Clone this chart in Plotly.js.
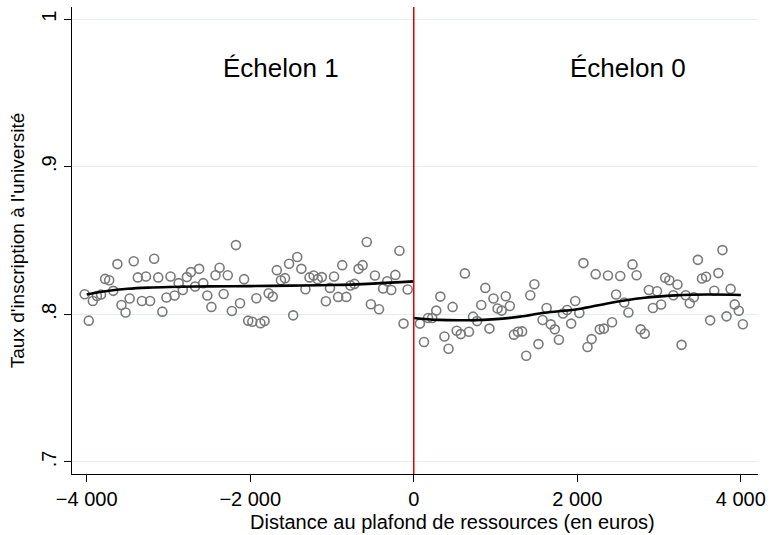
<!DOCTYPE html>
<html>
<head>
<meta charset="utf-8">
<script src="https://cdn.plot.ly/plotly-3.0.1.min.js"></script>
<style>html,body{margin:0;padding:0;background:#fff;}#chart{width:772px;height:535px;}</style>
</head>
<body>
<div id="chart"></div>
<script>
// Binned means, left of threshold (Échelon 1)
const leftX = [-4025,-3975,-3925,-3875,-3825,-3775,-3725,-3675,-3625,-3575,
  -3525,-3475,-3425,-3375,-3325,-3275,-3225,-3175,-3125,-3075,
  -3025,-2975,-2925,-2875,-2825,-2775,-2725,-2675,-2625,-2575,
  -2525,-2475,-2425,-2375,-2325,-2275,-2225,-2175,-2125,-2075,
  -2025,-1975,-1925,-1875,-1825,-1775,-1725,-1675,-1625,-1575,
  -1525,-1475,-1425,-1375,-1325,-1275,-1225,-1175,-1125,-1075,
  -1025,-975,-925,-875,-825,-775,-725,-675,-625,-575,
  -525,-475,-425,-375,-325,-275,-225,-175,-125,-75];
const leftY = [0.8136,0.7957,0.8090,0.8124,0.8134,0.8240,0.8231,0.8159,0.8340,0.8063,
  0.8012,0.8107,0.8359,0.8250,0.8090,0.8256,0.8090,0.8376,0.8250,0.8018,
  0.8114,0.8256,0.8127,0.8211,0.8165,0.8252,0.8286,0.8188,0.8308,0.8211,
  0.8127,0.8050,0.8265,0.8315,0.8138,0.8265,0.8022,0.8469,0.8075,0.8238,
  0.7957,0.7950,0.8109,0.7939,0.7954,0.8143,0.8120,0.8299,0.8231,0.8245,
  0.8342,0.7993,0.8388,0.8308,0.8170,0.8250,0.8263,0.8238,0.8252,0.8088,
  0.8179,0.8256,0.8118,0.8333,0.8118,0.8195,0.8206,0.8308,0.8333,0.8490,
  0.8068,0.8263,0.8034,0.8175,0.8224,0.8165,0.8267,0.8431,0.7937,0.8168];
// Binned means, right of threshold (Échelon 0)
const rightX = [75,125,175,225,275,325,375,425,475,525,
  575,625,675,725,775,825,875,925,975,1025,
  1075,1125,1175,1225,1275,1325,1375,1425,1475,1525,
  1575,1625,1675,1725,1775,1825,1875,1925,1975,2025,
  2075,2125,2175,2225,2275,2325,2375,2425,2475,2525,
  2575,2625,2675,2725,2775,2825,2875,2925,2975,3025,
  3075,3125,3175,3225,3275,3325,3375,3425,3475,3525,
  3575,3625,3675,3725,3775,3825,3875,3925,3975,4025];
const rightY = [0.7937,0.7812,0.7975,0.7975,0.8025,0.8120,0.7850,0.7767,0.8050,0.7889,
  0.7866,0.8277,0.7882,0.7984,0.7954,0.8063,0.8179,0.7903,0.8107,0.8039,
  0.8025,0.8122,0.8056,0.7862,0.7882,0.7884,0.7719,0.8129,0.8204,0.7798,
  0.7961,0.8043,0.7932,0.7898,0.7828,0.8005,0.8029,0.7937,0.8090,0.8009,
  0.8347,0.7778,0.7832,0.8272,0.7898,0.7903,0.8263,0.7946,0.8134,0.8259,
  0.8080,0.8012,0.8338,0.8265,0.7898,0.7869,0.8165,0.8043,0.8156,0.8066,
  0.8248,0.8231,0.8129,0.8202,0.7793,0.8129,0.8075,0.8116,0.8369,0.8243,
  0.8254,0.7959,0.8160,0.8279,0.8435,0.7986,0.8172,0.8067,0.8024,0.7933];
// Smoothed fits
const leftFitX = [-4000,-3750,-3500,-3250,-3000,-2500,-2000,-1500,-1000,-500,0];
const leftFitY = [0.8134,0.8158,0.8173,0.8181,0.8185,0.8189,0.8191,0.8194,0.8198,0.8208,0.8223];
const rightFitX = [0,300,700,1000,1300,1600,2000,2400,2800,3200,3600,4000];
const rightFitY = [0.7975,0.7962,0.7960,0.7967,0.7984,0.8010,0.8034,0.8077,0.8110,0.8128,0.8134,0.8131];
// Axis ticks and labels
const xTicks = [-4000,-2000,0,2000,4000];
const xTickText = ['\u22124 000','\u22122 000','0','2 000','4 000'];
const yTicks = [0.7,0.8,0.9,1];
const yTickText = ['.7','.8','.9','1'];
const xTitle = 'Distance au plafond de ressources (en euros)';
const yTitle = "Taux d'inscription à l'université";
const groupLabels = ['Échelon 1','Échelon 0'];
const groupLabelX = [-1622,2626];
const groupLabelY = [0.9667,0.9667];

const FONT = 'Liberation Sans, Arial, Helvetica, sans-serif';
const markerStyle = {symbol:'circle-open', size:9, color:'#7a7a7a', line:{width:1.6, color:'#7a7a7a'}};

const traces = [
  {x:leftX, y:leftY, type:'scatter', mode:'markers', marker:markerStyle, hoverinfo:'x+y'},
  {x:rightX, y:rightY, type:'scatter', mode:'markers', marker:markerStyle, hoverinfo:'x+y'},
  {x:leftFitX, y:leftFitY, type:'scatter', mode:'lines', line:{color:'#000', width:2.6, shape:'spline', smoothing:1}},
  {x:rightFitX, y:rightFitY, type:'scatter', mode:'lines', line:{color:'#000', width:2.6, shape:'spline', smoothing:1}}
];

const annotations = groupLabels.map((t,i)=>({text:t, x:groupLabelX[i], y:groupLabelY[i], xref:'x', yref:'y',
    showarrow:false, font:{family:FONT, size:26, color:'#000'}}));
annotations.push({text:xTitle, xref:'paper', yref:'paper', x:0.555, y:-0.103, xanchor:'center', yanchor:'middle',
    showarrow:false, font:{family:FONT, size:20, color:'#000'}});

const layout = {
  width:772, height:535,
  margin:{l:72, r:14, t:7, b:61},
  paper_bgcolor:'#fff', plot_bgcolor:'#fff',
  showlegend:false,
  font:{family:FONT, color:'#000', size:20},
  xaxis:{
    range:[-4180,4210], tickmode:'array', tickvals:xTicks, ticktext:xTickText,
    ticks:'outside', ticklen:7, tickcolor:'#000', tickwidth:1,
    showline:true, linecolor:'#000', linewidth:1, showgrid:false, zeroline:false,
    tickfont:{family:FONT, size:20, color:'#000'}
  },
  yaxis:{
    range:[0.6918,1.0082], tickmode:'array', tickvals:yTicks, ticktext:yTickText,
    tickangle:-90,
    ticks:'outside', ticklen:7, tickcolor:'#000', tickwidth:1,
    showline:true, linecolor:'#000', linewidth:1,
    showgrid:true, gridcolor:'#e6eef0', gridwidth:1, zeroline:false,
    tickfont:{family:FONT, size:20, color:'#000'},
    title:{text:yTitle, font:{family:FONT, size:19, color:'#000'}, standoff:8}
  },
  shapes:[{type:'line', xref:'x', yref:'paper', x0:0, x1:0, y0:0, y1:1, line:{color:'#e00000', width:1.5}}],
  annotations: annotations
};

Plotly.newPlot('chart', traces, layout, {displayModeBar:false, staticPlot:true});
</script>
</body>
</html>
